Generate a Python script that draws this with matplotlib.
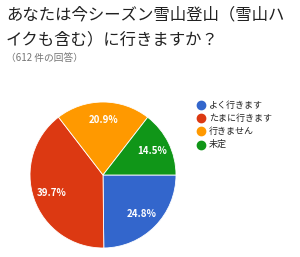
import matplotlib
matplotlib.use('Agg')
import matplotlib.pyplot as plt
from matplotlib.lines import Line2D

plt.rcParams['font.family'] = ['Noto Sans CJK JP', 'DejaVu Sans']

labels = ["よく行きます", "たまに行きます", "行きません", "未定"]
shares = [24.8, 39.7, 20.9, 14.5]
colors = ["#3366CC", "#DC3912", "#FF9900", "#109618"]

title_lines = ["あなたは今シーズン雪山登山（雪山ハ", "イクも含む）に行きますか？"]
subtitle = "（612 件の回答）"

W, H = 300, 257
fig = plt.figure(figsize=(W / 100, H / 100), dpi=100)
fig.patch.set_facecolor('white')

# title block
fig.text(6 / W, 1 - 15 / H, title_lines[0], fontsize=11.8, color='#212121', va='center', ha='left')
fig.text(6 / W, 1 - 40 / H, title_lines[1], fontsize=11.8, color='#212121', va='center', ha='left')
fig.text(6 / W, 1 - 58 / H, subtitle, fontsize=7, color='#757575', va='center', ha='left')

# pie: centre ~ (103, 175) px, radius ~ 73 px
cx, cy, r = 103, 175, 73
ax = fig.add_axes([(cx - r) / W, 1 - (cy + r) / H, 2 * r / W, 2 * r / H])
wedges, texts, autotexts = ax.pie(
    shares, colors=colors, startangle=0, counterclock=False,
    autopct='%.1f%%', pctdistance=0.75,
    wedgeprops=dict(edgecolor='white', linewidth=0.6),
    textprops=dict(color='white', fontsize=7, fontweight='bold'),
)
ax.set_xlim(-1.0, 1.0)
ax.set_ylim(-1.0, 1.0)
ax.set_aspect('equal')

# legend
for i, (lab, col) in enumerate(zip(labels, colors)):
    y = 1 - (105 + i * 13.2) / H
    fig.add_artist(Line2D([201 / W], [y], marker='o', markersize=6, color=col,
                          linestyle='none', transform=fig.transFigure))
    fig.text(209 / W, y, lab, fontsize=6.5, color='#222222', va='center', ha='left')

fig.savefig('out.png', dpi=100)
